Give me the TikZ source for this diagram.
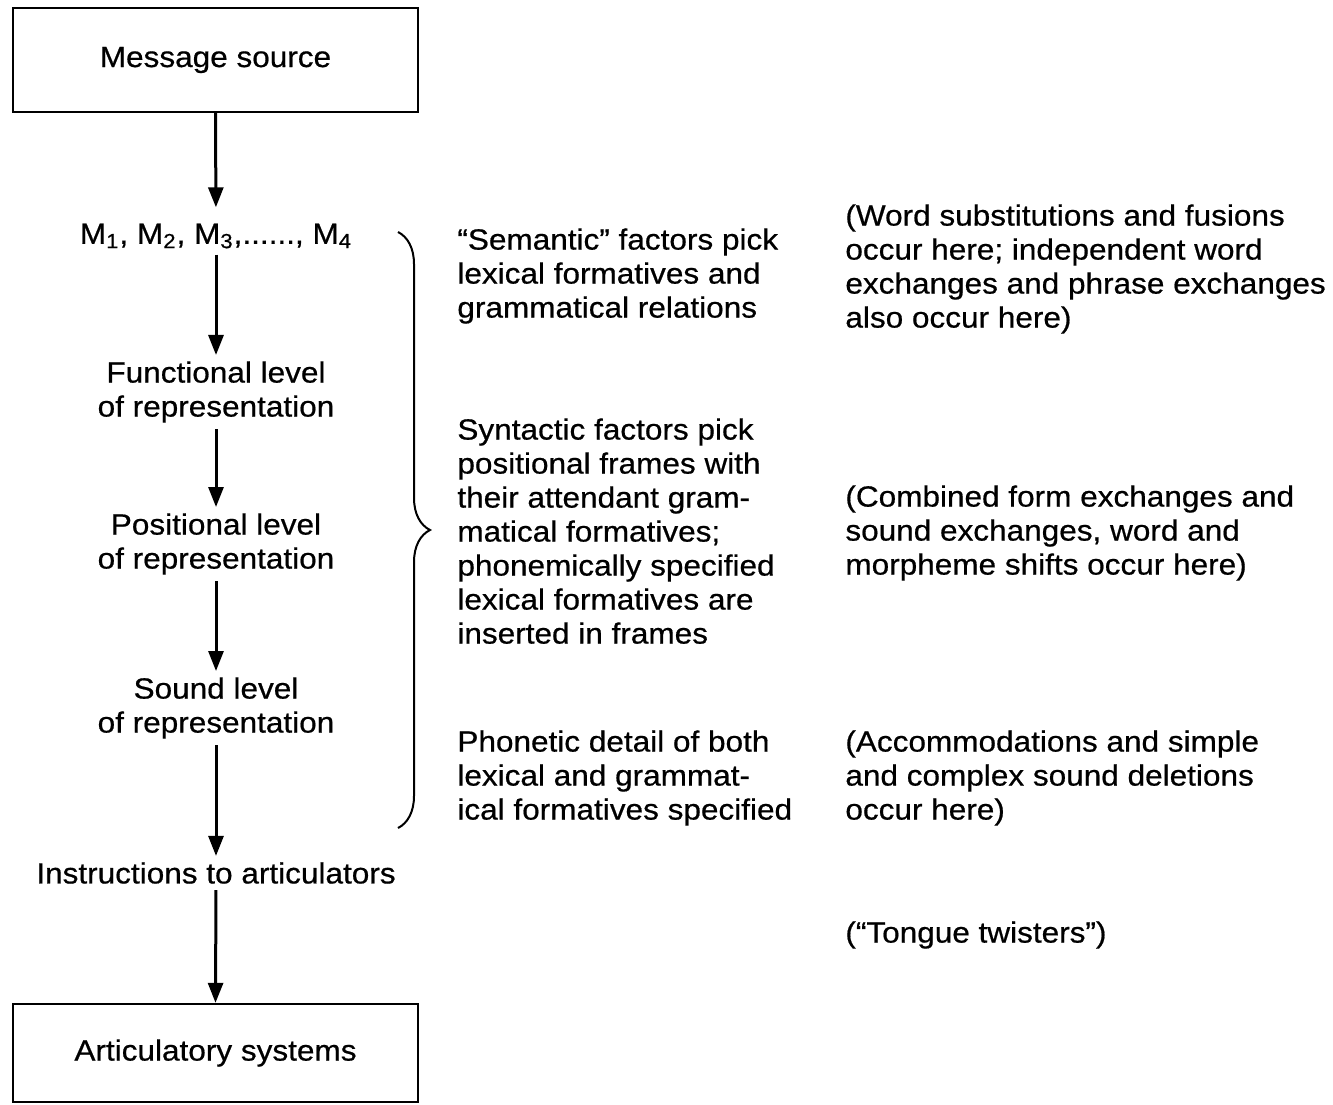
\documentclass[tikz,border=0pt]{standalone}
\usepackage{fontspec}
\setmainfont{Liberation Sans}[FakeStretch=1.08, FakeBold=0.6]
\usetikzlibrary{arrows.meta,decorations.pathreplacing}
\begin{document}
\begin{tikzpicture}[x=0.5pt,y=-0.5pt,
  every node/.style={font=\fontsize{14.6}{17}\selectfont, inner sep=0pt},
  box/.style={draw, line width=1.2pt, minimum width=202.5pt},
  level/.style={align=center},
  note/.style={align=left, anchor=north west},
  flow/.style={line width=1.5pt, -{Triangle[length=10pt,width=7.5pt]}},
]
\useasboundingbox (0,0) rectangle (1333,1104);

% main chain of levels
\node[box, minimum height=52pt] (src) at (215.5,60) {Message source};
\node[level] (m) at (216,236) {M\textsubscript{1}, M\textsubscript{2}, M\textsubscript{3},......, M\textsubscript{4}};
\node[level] (fun) at (216,392) {Functional level\\of representation};
\node[level] (pos) at (216,544) {Positional level\\of representation};
\node[level] (snd) at (216,708) {Sound level\\of representation};
\node[level] (ins) at (216,873) {Instructions to articulators};
\node[box, minimum height=49pt] (art) at (215.5,1053) {Articulatory systems};

\draw[flow, shorten >=8pt] (src.south) -- (m.north);
\draw[flow, shorten <=3pt, shorten >=3pt] (m.south) -- (fun.north);
\draw[flow, shorten <=3pt, shorten >=3pt] (fun.south) -- (pos.north);
\draw[flow, shorten <=3pt, shorten >=3pt] (pos.south) -- (snd.north);
\draw[flow, shorten <=3pt, shorten >=3pt] (snd.south) -- (ins.north);
\draw[flow, shorten <=3pt] (ins.south) -- (art.north);

% brace grouping the three processing levels
\coordinate (bt) at (398,232);
\coordinate (bb) at (398,828);
\draw[line width=1pt, decorate, decoration={brace, amplitude=16pt}] (bt) -- (bb);

% factors at each level
\node[note] (sem) at (457,228) {``Semantic'' factors pick\\lexical formatives and\\grammatical relations};
\node[note] (syn) at (457,418) {Syntactic factors pick\\positional frames with\\their attendant gram-\\matical formatives;\\phonemically specified\\lexical formatives are\\inserted in frames};
\node[note] (pho) at (457,730) {Phonetic detail of both\\lexical and grammat-\\ical formatives specified};

% errors arising at each level
\node[note] (e1) at (845,204) {(Word substitutions and fusions\\occur here; independent word\\exchanges and phrase exchanges\\also occur here)};
\node[note] (e2) at (845,485) {(Combined form exchanges and\\sound exchanges, word and\\morpheme shifts occur here)};
\node[note] (e3) at (845,730) {(Accommodations and simple\\and complex sound deletions\\occur here)};
\node[note] (e4) at (845,921) {(``Tongue twisters'')};
\end{tikzpicture}
\end{document}
